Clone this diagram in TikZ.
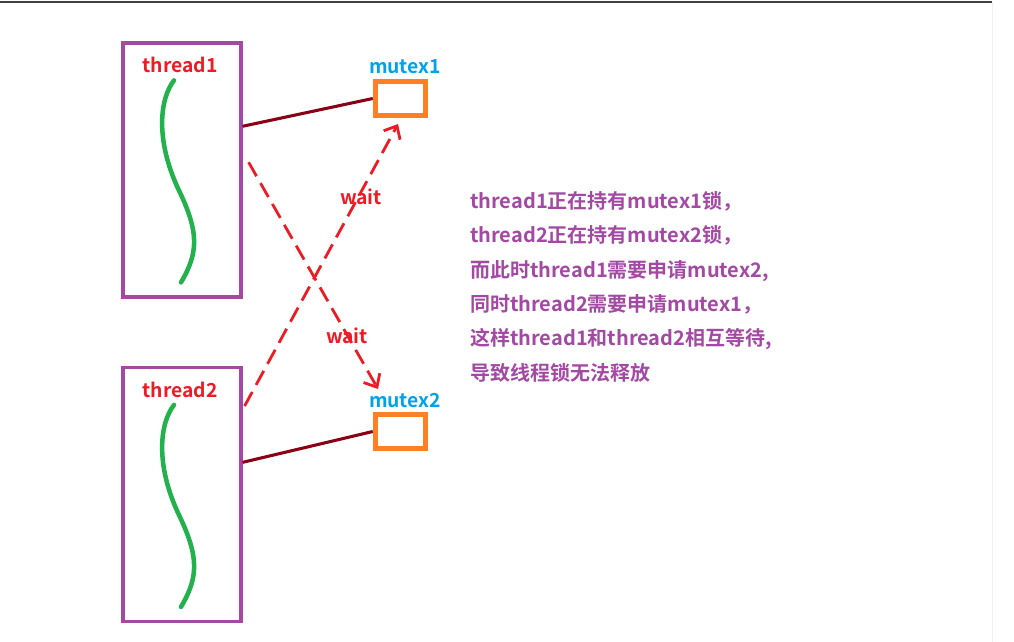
\documentclass[tikz,border=0pt]{standalone}
\usepackage{fontspec}
\setmainfont{Noto Sans CJK SC}[BoldFont={Noto Sans CJK SC Bold}]
\usetikzlibrary{arrows.meta,positioning,calc}
\definecolor{boxpurple}{HTML}{A349A4}
\definecolor{threadred}{HTML}{ED1C24}
\definecolor{lockorange}{HTML}{FF7F27}
\definecolor{lockblue}{HTML}{00A2E8}
\definecolor{holdred}{HTML}{880015}
\definecolor{flowgreen}{HTML}{22B14C}
\definecolor{framegray}{HTML}{404040}

\begin{document}
\begin{tikzpicture}[x=0.75pt,y=-0.75pt,>={Straight Barb[length=8pt,width=14pt]},
    thread/.style={draw=boxpurple,line width=2.4pt,minimum width=88.5pt,
                   minimum height=190.5pt,inner sep=0pt},
    mutex/.style={draw=lockorange,line width=3.6pt,minimum width=38pt,
                  minimum height=25pt,inner sep=0pt},
    tname/.style={font=\fontsize{14.5}{14.5}\selectfont\bfseries,text=threadred,
                  anchor=base,inner sep=0pt},
    mname/.style={font=\fontsize{14.5}{14.5}\selectfont\bfseries,text=lockblue,
                  anchor=base,inner sep=0pt},
    waitlabel/.style={tname},
    note/.style={font=\fontsize{15}{25.8}\selectfont\bfseries,text=boxpurple,
                 anchor=north west,align=left,inner sep=0pt},
    hold/.style={holdred,line width=2.3pt},
    waitline/.style={->,threadred,line width=2.1pt,dash pattern=on 12pt off 6pt},
    flow/.style={flowgreen,line width=3.4pt,line cap=round}]
  \useasboundingbox (0,0) rectangle (1014,642);
  \draw[framegray,line width=1.5pt] (0,2) -- (992,2);
  \draw[black!6,line width=0.75pt] (992,2) -- (992,642);

  \node[thread] (t1) at (182,170) {};
  \node[thread] (t2) at (182,494.5) {};
  \node[mutex] (m1) at (400.5,98.5) {};
  \node[mutex] (m2) at (400.5,431.5) {};
  \node[tname] (n1) at (180,73) {thread1};
  \node[tname] (n2) at (180,397) {thread2};
  \node[mname] (l1) at (405,74) {mutex1};
  \node[mname] (l2) at (405,407) {mutex2};
  \node[waitlabel] (a1) at (361,204) {wait};
  \node[waitlabel] (a2) at (347,343) {wait};
  \coordinate (tip1) at (398,124);
  \coordinate (tip2) at (378,389);

  \foreach \t in {t1,t2}
    \draw[flow,shift={(\t.north)}] (-8,39) .. controls (-22,57) and (-27,97) .. (-4,147)
      .. controls (18,192) and (16,212) .. (-1,241);

  \draw[hold] ($(t1.north east)!0.33!(t1.south east)$) -- (m1.west);
  \draw[hold] ($(t2.north east)!0.375!(t2.south east)$) -- (m2.west);
  \draw[waitline] ([xshift=4.5pt]$(t1.north east)!0.47!(t1.south east)$) -- (tip2);
  \draw[waitline] ([xshift=1.5pt]$(t2.north east)!0.156!(t2.south east)$) -- (tip1);

  \node[note] (desc) at (470,191) {thread1正在持有mutex1锁，\\
    thread2正在持有mutex2锁，\\
    而此时thread1需要申请mutex2,\\
    同时thread2需要申请mutex1，\\
    这样thread1和thread2相互等待,\\
    导致线程锁无法释放};
\end{tikzpicture}
\end{document}
